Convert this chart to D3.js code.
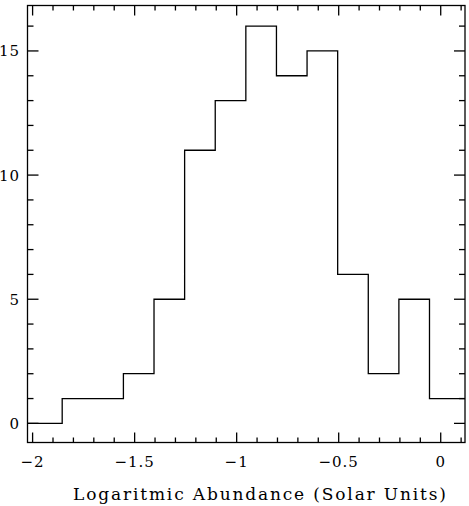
<!DOCTYPE html>
<meta charset="utf-8">
<style>
    body { margin: 0; background: #fff; }
    .lbl { font: 15px "DejaVu Serif", "Liberation Serif", serif; fill: #000; letter-spacing: 1px; }
    .title { font: 17px "DejaVu Serif", "Liberation Serif", serif; fill: #000; }
</style>
<body>
    <svg width="469" height="506"></svg>
</body>
<script src="https://d3js.org/d3.v7.min.js"></script>
<script>
    // histogram bins (edges) and counts
    var binEdges = [-2.025, -1.855, -1.705, -1.555, -1.405, -1.255, -1.105, -0.955, -0.805, -0.655, -0.505, -0.355, -0.205, -0.055, 0.119];
    var counts = [0, 1, 1, 2, 5, 11, 13, 16, 14, 15, 6, 2, 5, 1];

    var xTicks = [-2, -1.5, -1, -0.5, 0];
    var yTicks = [0, 5, 10, 15];
    var xLabel = "Logaritmic Abundance (Solar Units)";

    var svg = d3.select("svg");
    var pLeft = 27.5, pRight = 465, pTop = 5.5, pBottom = 442.5;

    var x = d3.scaleLinear().domain([-2.025, 0.119]).range([pLeft, pRight]);
    var y = d3.scaleLinear().domain([-0.77, 16.83]).range([pBottom, pTop]);

    // step line
    var pts = [];
    counts.forEach(function (c, i) {
        pts.push([binEdges[i], c]);
        pts.push([binEdges[i + 1], c]);
    });
    svg.append("path")
        .attr("d", d3.line().x(function (d) { return x(d[0]); }).y(function (d) { return y(d[1]); })(pts))
        .attr("fill", "none")
        .attr("stroke", "#000")
        .attr("stroke-width", 1.3);

    // frame
    svg.append("rect")
        .attr("x", pLeft).attr("y", pTop)
        .attr("width", pRight - pLeft).attr("height", pBottom - pTop)
        .attr("fill", "none").attr("stroke", "#000").attr("stroke-width", 1.3);

    // x ticks, bottom and top
    d3.range(-20, 2).forEach(function (k) {
        var v = k / 10;
        var len = k % 5 === 0 ? 10 : 5;
        var px = x(v);
        svg.append("line").attr("x1", px).attr("x2", px).attr("y1", pBottom).attr("y2", pBottom - len)
            .attr("stroke", "#000").attr("stroke-width", 1.3);
        svg.append("line").attr("x1", px).attr("x2", px).attr("y1", pTop).attr("y2", pTop + len)
            .attr("stroke", "#000").attr("stroke-width", 1.3);
    });

    // y ticks, left and right
    d3.range(0, 17).forEach(function (v) {
        var len = v % 5 === 0 ? 11 : 6;
        var py = y(v);
        svg.append("line").attr("x1", pLeft).attr("x2", pLeft + len).attr("y1", py).attr("y2", py)
            .attr("stroke", "#000").attr("stroke-width", 1.3);
        svg.append("line").attr("x1", pRight).attr("x2", pRight - len).attr("y1", py).attr("y2", py)
            .attr("stroke", "#000").attr("stroke-width", 1.3);
    });

    svg.selectAll(".xl")
        .data(xTicks)
        .enter().append("text")
        .attr("class", "lbl")
        .attr("x", function (d) { return x(d); })
        .attr("y", 467)
        .attr("text-anchor", "middle")
        .text(function (d) { return d < 0 ? "\u2212" + Math.abs(d) : d; });

    svg.selectAll(".yl")
        .data(yTicks)
        .enter().append("text")
        .attr("class", "lbl")
        .attr("x", 20)
        .attr("y", function (d) { return y(d) + 5.5; })
        .attr("text-anchor", "end")
        .text(function (d) { return d; });

    svg.append("text")
        .attr("class", "title")
        .attr("x", 73)
        .attr("y", 500)
        .attr("textLength", 373)
        .attr("lengthAdjust", "spacing")
        .text(xLabel);
</script>
